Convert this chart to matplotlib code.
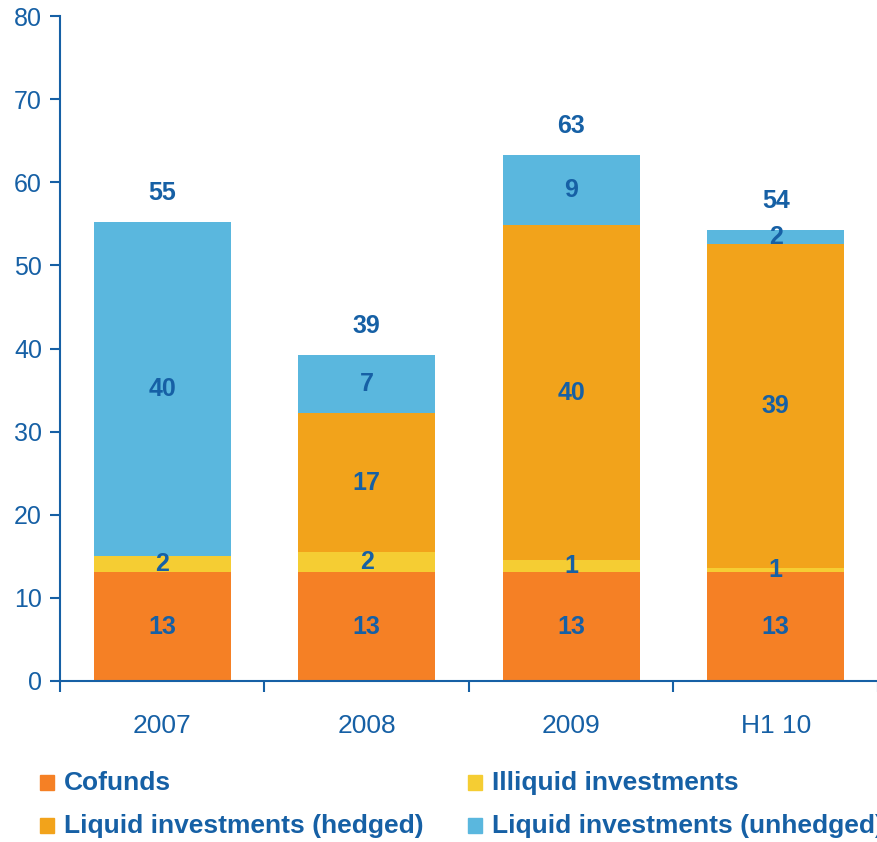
import matplotlib
matplotlib.use("Agg")
import matplotlib.pyplot as plt
from matplotlib.patches import Rectangle
import numpy as np

# data
categories = ["2007", "2008", "2009", "H1 10"]
cofunds = [13.1, 13.1, 13.1, 13.1]
illiquid = [1.9, 2.4, 1.5, 0.5]
hedged = [0.0, 16.7, 40.2, 39.0]
unhedged = [40.2, 7.0, 8.5, 1.7]

cofunds_lbl = ["13", "13", "13", "13"]
illiquid_lbl = ["2", "2", "1", "1"]
hedged_lbl = ["", "17", "40", "39"]
unhedged_lbl = ["40", "7", "9", "2"]
total_lbl = ["55", "39", "63", "54"]

BLUE = "#1660a5"
COLORS = {
    "Cofunds": "#f58025",
    "Illiquid investments": "#f5cd33",
    "Liquid investments (hedged)": "#f2a31b",
    "Liquid investments (unhedged)": "#5ab7de",
}

plt.rcParams["font.family"] = ["Liberation Sans", "DejaVu Sans"]

fig = plt.figure(figsize=(8.78, 8.42), dpi=100)
W, H = 878, 842
ax = fig.add_axes([60 / W, (H - 681) / H, (W - 60) / W, 665 / H])

x = np.arange(len(categories))
width = 0.67
series = [
    ("Cofunds", cofunds, cofunds_lbl),
    ("Illiquid investments", illiquid, illiquid_lbl),
    ("Liquid investments (hedged)", hedged, hedged_lbl),
    ("Liquid investments (unhedged)", unhedged, unhedged_lbl),
]

bottom = np.zeros(len(categories))
for name, vals, lbls in series:
    vals = np.array(vals)
    ax.bar(x, vals, width, bottom=bottom, color=COLORS[name], linewidth=0, zorder=2)
    for xi, v, bt, lb in zip(x, vals, bottom, lbls):
        if lb:
            ax.text(xi, bt + v / 2, lb, ha="center", va="center", color=BLUE,
                    fontsize=18, fontweight="bold", zorder=3)
    bottom = bottom + vals

for xi, top, lb in zip(x, bottom, total_lbl):
    ax.text(xi, top + 3.5, lb, ha="center", va="center", color=BLUE,
            fontsize=18, fontweight="bold")

ax.set_ylim(0, 80)
ax.set_xlim(-0.5, -0.5 + (W - 60) / 206.2)
ax.set_yticks(range(0, 81, 10))
ax.set_xticks(x)
ax.set_xticklabels(categories)
ax.set_xticks(np.arange(-0.5, 4.0, 1.0), minor=True)

for s in ["top", "right"]:
    ax.spines[s].set_visible(False)
for s in ["left", "bottom"]:
    ax.spines[s].set_color(BLUE)
    ax.spines[s].set_linewidth(1.5)

ax.tick_params(axis="y", colors=BLUE, labelcolor=BLUE, labelsize=18, length=7,
               width=1.5, direction="out", pad=6)
ax.tick_params(axis="x", which="major", length=0, labelcolor=BLUE, labelsize=19, pad=24)
ax.tick_params(axis="x", which="minor", length=8, width=1.5, color=BLUE, direction="out")

# legend drawn by hand in pixel coordinates
legend_items = [
    ("Cofunds", 40, 783),
    ("Illiquid investments", 468, 783),
    ("Liquid investments (hedged)", 40, 826),
    ("Liquid investments (unhedged)", 468, 826),
]
for name, px, py in legend_items:
    fig.patches.append(Rectangle((px / W, (H - py - 7) / H), 14 / W, 15 / H,
                                 transform=fig.transFigure, color=COLORS[name]))
    fig.text((px + 24) / W, (H - py) / H, name, ha="left", va="center",
             color=BLUE, fontsize=19, fontweight="bold")

fig.savefig("out.png", dpi=100)
